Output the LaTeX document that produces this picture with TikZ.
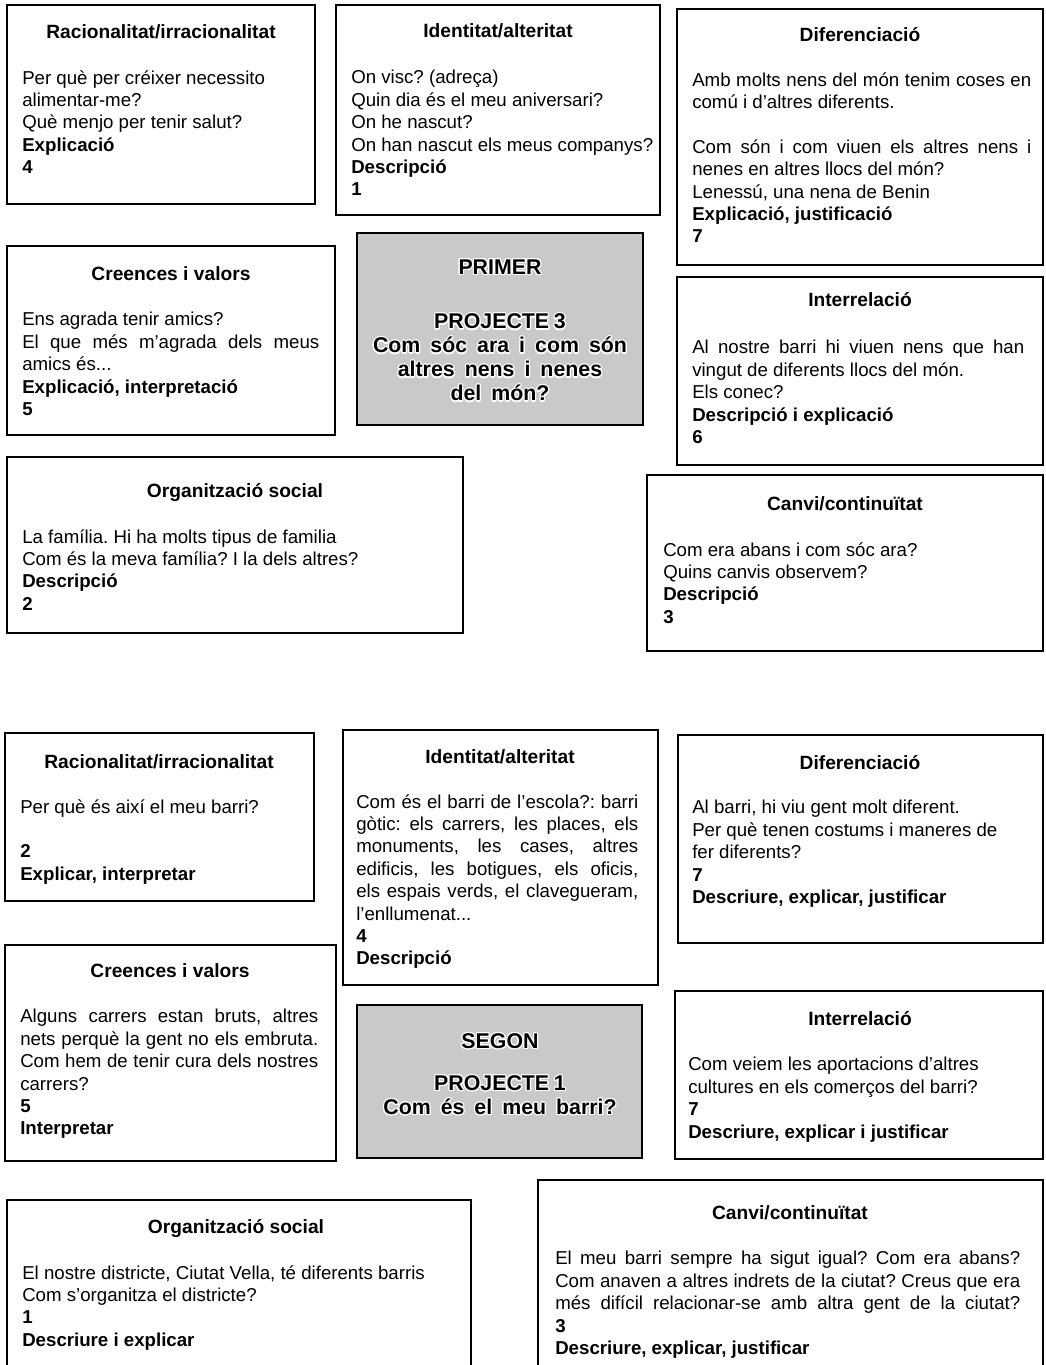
\documentclass[tikz,border=0pt]{standalone}
\usepackage{fontspec}
\setmainfont{Liberation Sans}
\usepackage{contour}
\contourlength{0.9pt}
\usetikzlibrary{fit}

% a line of body text spread out to a given width (in pt)
\newcommand{\jline}[2]{\makebox[#1pt][s]{#2}}
% a line of the project title, with a white halo and wide spaces
\newcommand{\projline}[1]{\contour{white}{\spaceskip=7.5pt\relax #1}}

\tikzset{
  card/.style={draw, line width=1.4pt, inner sep=0pt},
  cardtitle/.style={font=\bfseries\fontsize{14.4}{16.8}\selectfont, anchor=base, inner sep=0pt},
  cardbody/.style={font=\fontsize{14}{16.8}\selectfont, align=left, anchor=north west, inner sep=0pt},
  project/.style={draw, line width=1.4pt, inner sep=0pt, fill=black!21},
  projtext/.style={font=\bfseries\fontsize{16}{18}\selectfont, align=center, inner sep=0pt}
}

\begin{document}
\frenchspacing
\begin{tikzpicture}[x=0.75pt,y=-0.75pt]

\useasboundingbox (0,0) rectangle (1046,1365);
\clip (0,0) rectangle (1046,1365);

%
% First project (top half)
%

% Racionalitat/irracionalitat
\node[card, fit={(7,5) (315,204)}] (rac1) {};
\node[cardtitle] (rac1t) at (161,38) {Racionalitat/irracionalitat};
\node[cardbody] (rac1b) at (22,70) {Per què per créixer necessito\\
  alimentar-me?\\
  Què menjo per tenir salut?\\
  \textbf{Explicació}\\
  \textbf{4}};

% Identitat/alteritat
\node[card, fit={(336,5) (660,215)}] (ide1) {};
\node[cardtitle] (ide1t) at (498,37) {Identitat/alteritat};
\node[cardbody] (ide1b) at (351,70) {On visc? (adreça)\\
  Quin dia és el meu aniversari?\\
  On he nascut?\\
  On han nascut els meus companys?\\
  \textbf{Descripció}\\
  \textbf{1}};

% Diferenciacio
\node[card, fit={(677,9) (1043,265)}] (dif1) {};
\node[cardtitle] (dif1t) at (860,41) {Diferenciació};
\node[cardbody] (dif1b) at (692,72) {\jline{254.25}{Amb molts nens del món tenim coses en}\\
  comú i d’altres diferents.\\[16.8pt]
  \jline{254.25}{Com són i com viuen els altres nens i}\\
  nenes en altres llocs del món?\\
  Lenessú, una nena de Benin\\
  \textbf{Explicació, justificació}\\
  \textbf{7}};

% The project in the middle
\node[project, fit={(357,233) (643,425)}] (pri) {};
\node[projtext] (prit) at (500,331) {\projline{PRIMER}\\[23pt]
  \projline{PROJECTE\hspace{3.5pt}3}\\
  \projline{Com sóc ara i com són}\\
  \projline{altres nens i nenes}\\
  \projline{del món?}};

% Creences i valors
\node[card, fit={(7,246) (335,435)}] (cre1) {};
\node[cardtitle] (cre1t) at (171,280) {Creences i valors};
\node[cardbody] (cre1b) at (22,312) {Ens agrada tenir amics?\\
  \jline{222.75}{El que més m’agrada dels meus}\\
  amics és...\\
  \textbf{Explicació, interpretació}\\
  \textbf{5}};

% Interrelacio
\node[card, fit={(677,277) (1043,465)}] (int1) {};
\node[cardtitle] (int1t) at (860,306) {Interrelació};
\node[cardbody] (int1b) at (692,340) {\jline{249}{Al nostre barri hi viuen nens que han}\\
  vingut de diferents llocs del món.\\
  Els conec?\\
  \textbf{Descripció i explicació}\\
  \textbf{6}};

% Organitzacio social
\node[card, fit={(7,457) (463,633)}] (org1) {};
\node[cardtitle] (org1t) at (235,497) {Organització social};
\node[cardbody] (org1b) at (22,529) {La família. Hi ha molts tipus de familia\\
  Com és la meva família? I la dels altres?\\
  \textbf{Descripció}\\
  \textbf{2}};

% Canvi/continuitat
\node[card, fit={(647,475) (1043,651)}] (can1) {};
\node[cardtitle] (can1t) at (845,510) {Canvi/continuïtat};
\node[cardbody] (can1b) at (663,542) {Com era abans i com sóc ara?\\
  Quins canvis observem?\\
  \textbf{Descripció}\\
  \textbf{3}};

%
% Second project (bottom half)
%

% Racionalitat/irracionalitat
\node[card, fit={(5,733) (314,901)}] (rac2) {};
\node[cardtitle] (rac2t) at (159,768) {Racionalitat/irracionalitat};
\node[cardbody] (rac2b) at (20,799) {Per què és així el meu barri?\\[16.8pt]
  \textbf{2}\\
  \textbf{Explicar, interpretar}};

% Identitat/alteritat
\node[card, fit={(343,730) (658,985)}] (ide2) {};
\node[cardtitle] (ide2t) at (500,763) {Identitat/alteritat};
\node[cardbody] (ide2b) at (356,794) {\jline{211.5}{Com és el barri de l’escola?: barri}\\
  \jline{211.5}{gòtic: els carrers, les places, els}\\
  \jline{211.5}{monuments, les cases, altres}\\
  \jline{211.5}{edificis, les botigues, els oficis,}\\
  \jline{211.5}{els espais verds, el clavegueram,}\\
  l’enllumenat...\\
  \textbf{4}\\
  \textbf{Descripció}};

% Diferenciacio
\node[card, fit={(678,735) (1043,943)}] (dif2) {};
\node[cardtitle] (dif2t) at (860,769) {Diferenciació};
\node[cardbody] (dif2b) at (692,800) {Al barri, hi viu gent molt diferent.\\
  Per què tenen costums i maneres de\\
  fer diferents?\\
  \textbf{7}\\
  \textbf{Descriure, explicar, justificar}};

% Creences i valors
\node[card, fit={(5,945) (336,1161)}] (cre2) {};
\node[cardtitle] (cre2t) at (170,977) {Creences i valors};
\node[cardbody] (cre2b) at (20,1009) {\jline{223.5}{Alguns carrers estan bruts, altres}\\
  \jline{223.5}{nets perquè la gent no els embruta.}\\
  \jline{223.5}{Com hem de tenir cura dels nostres}\\
  carrers?\\
  \textbf{5}\\
  \textbf{Interpretar}};

% The project in the middle
\node[project, fit={(357,1005) (642,1158)}] (seg) {};
\node[projtext] (segt) at (500,1075) {\projline{SEGON}\\[13.5pt]
  \projline{PROJECTE\hspace{3.5pt}1}\\
  \projline{Com és el meu barri?}};

% Interrelacio
\node[card, fit={(675,991) (1043,1159)}] (int2) {};
\node[cardtitle] (int2t) at (860,1025) {Interrelació};
\node[cardbody] (int2b) at (688,1057) {Com veiem les aportacions d’altres\\
  cultures en els comerços del barri?\\
  \textbf{7}\\
  \textbf{Descriure, explicar i justificar}};

% Organitzacio social (runs off the page)
\node[card, fit={(7,1200) (471,1380)}] (org2) {};
\node[cardtitle] (org2t) at (236,1233) {Organització social};
\node[cardbody] (org2b) at (22,1265) {El nostre districte, Ciutat Vella, té diferents barris\\
  Com s’organitza el districte?\\
  \textbf{1}\\
  \textbf{Descriure i explicar}};

% Canvi/continuitat (runs off the page)
\node[card, fit={(538,1180) (1043,1380)}] (can2) {};
\node[cardtitle] (can2t) at (790,1219) {Canvi/continuïtat};
\node[cardbody] (can2b) at (555,1251) {\jline{348.75}{El meu barri sempre ha sigut igual? Com era abans?}\\
  \jline{348.75}{Com anaven a altres indrets de la ciutat? Creus que era}\\
  \jline{348.75}{més difícil relacionar-se amb altra gent de la ciutat?}\\
  \textbf{3}\\
  \textbf{Descriure, explicar, justificar}};

\end{tikzpicture}
\end{document}
